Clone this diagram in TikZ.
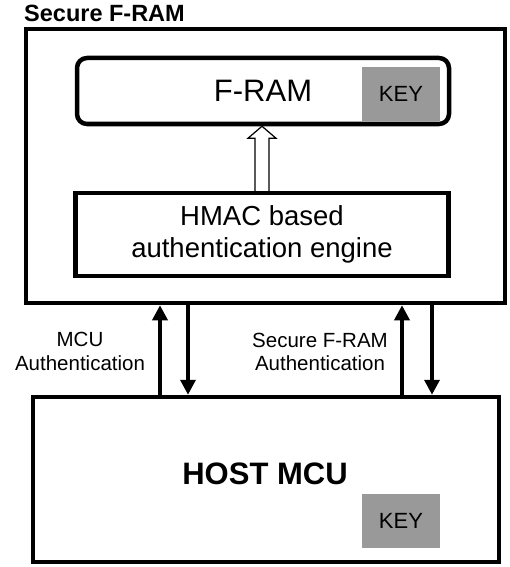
\documentclass[tikz,border=0pt]{standalone}
\usepackage{fontspec}
\setmainfont{Liberation Sans}
\usetikzlibrary{arrows.meta}
\tikzset{
  block/.style = {draw, line width=4.5pt, inner sep=0pt},
  keybox/.style = {fill=black!40, minimum width=78pt, minimum height=54pt,
                   inner sep=0pt, font=\fontsize{22}{26}\selectfont},
  authline/.style = {line width=3.5pt, -{Triangle[length=15pt,width=15pt]}},
  authtext/.style = {align=center, inner sep=0pt,
                     font=\fontsize{20.5}{23.5}\selectfont}
}

\begin{document}
\begin{tikzpicture}[x=1pt,y=-1pt]
	\useasboundingbox (0,0) rectangle (509,567);

	% Secure F-RAM chip
	\node[block, minimum width=479pt, minimum height=274pt] (sfram) at (265.5,166) {};
	\node[anchor=base west, inner sep=0pt, font=\bfseries\fontsize{23.5}{27}\selectfont] (title) at (24,22) {Secure F-RAM};

	\node[block, rounded corners=10pt, minimum width=372pt, minimum height=66pt,
	      font=\fontsize{31}{36}\selectfont] (fram) at (263,91) {F-RAM};
	\node[keybox] (framkey) at (401,94) {KEY};

	\node[block, minimum width=373pt, minimum height=83pt, align=center,
	      font=\fontsize{27.5}{32}\selectfont] (hmac) at (262,234.5) {HMAC based\\authentication engine};

	% hollow arrow engine -> F-RAM
	\coordinate (tip) at (hmac.north |- fram.south);
	\draw[line width=1.2pt, fill=white]
		([xshift=-7pt]hmac.north) -- ([xshift=-7pt,yshift=-12pt]tip) -- ([xshift=-14pt,yshift=-12pt]tip)
		-- (tip) -- ([xshift=14pt,yshift=-12pt]tip) -- ([xshift=7pt,yshift=-12pt]tip) -- ([xshift=7pt]hmac.north);

	% Host
	\node[block, minimum width=466pt, minimum height=165pt] (host) at (266,479.5) {};
	\node[inner sep=0pt, font=\bfseries\fontsize{31}{36}\selectfont] (hostname) at (265,474) {HOST MCU};
	\node[keybox] (hostkey) at (401,521) {KEY};

	% Authentication links
	\coordinate (up1) at (160,0);
	\coordinate (dn1) at (188,0);
	\coordinate (up2) at (402,0);
	\coordinate (dn2) at (432,0);
	\draw[authline] (up1 |- host.north) -- (up1 |- sfram.south);
	\draw[authline] (dn1 |- sfram.south) -- (dn1 |- host.north);
	\draw[authline] (up2 |- host.north) -- (up2 |- sfram.south);
	\draw[authline] (dn2 |- sfram.south) -- (dn2 |- host.north);

	\node[authtext] (mcuauth) at (80,351.5) {MCU\\Authentication};
	\node[authtext] (framauth) at (320,352) {Secure F-RAM\\Authentication};
\end{tikzpicture}
\end{document}
